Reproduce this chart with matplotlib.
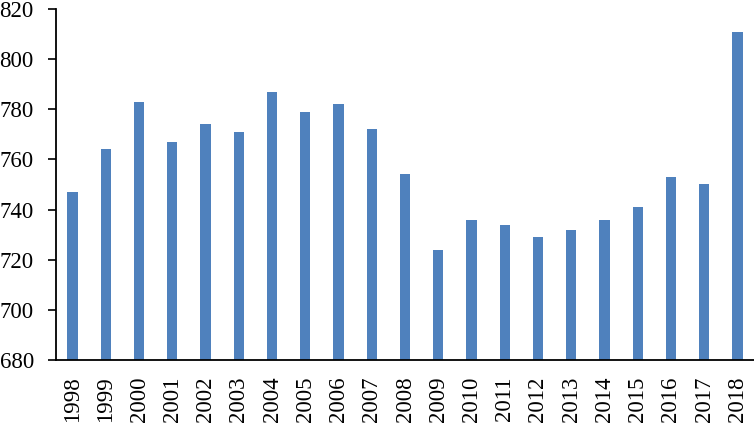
import numpy as np
import matplotlib.pyplot as plt

plt.rcParams['font.family'] = ['Liberation Serif', 'DejaVu Serif']

years = [str(y) for y in range(1998, 2019)]
values = [747, 764, 783, 767, 774, 771, 787, 779, 782, 772, 754,
          724, 736, 734, 729, 732, 736, 741, 753, 750, 811]
yticks = [680, 700, 720, 740, 760, 780, 800, 820]

fig = plt.figure(figsize=(7.54, 4.23), dpi=100)
ax = fig.add_axes([56 / 754, 1 - 360 / 423, 698 / 754, 351 / 423])

x = np.arange(len(years))
ax.bar(x, np.array(values) - 680, bottom=680, width=0.31, color='#4F81BD')

ax.set_xlim(-0.5, len(years) - 0.5)
ax.set_ylim(680, 820)
ax.set_yticks(yticks)
ax.set_xticks(x)
ax.set_xticklabels(years, rotation=90)
ax.tick_params(axis='y', labelsize=16.5, length=6, width=1.2, pad=10)
ax.tick_params(axis='x', labelsize=16.5, length=0, pad=12)

for s in ['top', 'right']:
    ax.spines[s].set_visible(False)
ax.spines['left'].set_linewidth(1.3)
ax.spines['bottom'].set_linewidth(1.3)

fig.savefig('out.png', dpi=100)
